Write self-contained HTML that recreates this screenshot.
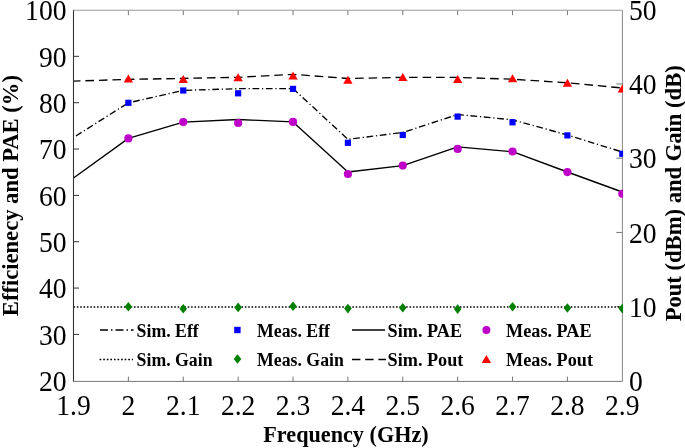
<!DOCTYPE html><html><head><meta charset="utf-8"><style>
html,body{margin:0;padding:0;background:#fff;}
body{width:685px;height:448px;overflow:hidden;position:relative;}
svg{position:absolute;left:0;top:0;display:block;filter:blur(0.3px);}
text{font-family:"Liberation Serif", serif;font-variant-ligatures:none;}
</style></head><body>
<svg width="685" height="448" viewBox="0 0 685 448">
<defs><clipPath id="c"><rect x="73.50" y="0" width="548.90" height="448"/></clipPath><clipPath id="m"><rect x="73.50" y="0" width="549.60" height="448"/></clipPath></defs>
<rect width="685" height="448" fill="#fff"/>
<path d="M128.38 381.40V376.60M128.38 10.25V15.15M183.26 381.40V376.60M183.26 10.25V15.15M238.14 381.40V376.60M238.14 10.25V15.15M293.02 381.40V376.60M293.02 10.25V15.15M347.90 381.40V376.60M347.90 10.25V15.15M402.78 381.40V376.60M402.78 10.25V15.15M457.66 381.40V376.60M457.66 10.25V15.15M512.54 381.40V376.60M512.54 10.25V15.15M567.42 381.40V376.60M567.42 10.25V15.15" stroke="#777" stroke-width="1" fill="none"/>
<path d="M73.50 334.42H79.00M73.50 288.07H79.00M73.50 241.72H79.00M73.50 195.38H79.00M73.50 149.03H79.00M73.50 102.69H79.00M73.50 56.34H79.00" stroke="#333" stroke-width="1" fill="none"/>
<path d="M622.40 306.70H616.40M622.40 232.45H616.40M622.40 158.20H616.40M622.40 83.95H616.40" stroke="#777" stroke-width="1" fill="none"/>
<g clip-path="url(#c)" fill="none" stroke="#000" stroke-width="1.35" stroke-linejoin="round">
<polyline points="73.50,81.10 128.38,79.40 183.26,78.40 238.14,77.30 293.02,74.30 347.90,78.50 402.78,77.40 457.66,77.40 512.54,79.20 567.42,82.80 622.30,88.00" stroke-dasharray="8.6 4.9" stroke-dashoffset="1.6"/>
<polyline points="73.50,137.50 128.38,102.80 183.26,90.40 238.14,88.70 293.02,88.60 347.90,139.30 402.78,132.50 457.66,114.50 512.54,119.80 567.42,135.00 622.30,152.00" stroke-dasharray="6.7 2.8 1.2 2.7" stroke-dashoffset="10.56"/>
<polyline points="73.50,178.00 128.38,138.40 183.26,122.20 238.14,119.50 293.02,121.90 347.90,172.00 402.78,165.60 457.66,146.80 512.54,151.70 567.42,172.00 622.30,192.00"/>
<line x1="73.50" y1="307.00" x2="622.40" y2="307.00" stroke-dasharray="1.55 1.81" stroke-width="1.6"/>
</g>
<path d="M73.50 10.25H622.40" stroke="#999" stroke-width="1" fill="none"/>
<path d="M622.40 10.25V381.40" stroke="#888" stroke-width="1" fill="none"/>
<path d="M73.50 381.40H622.40" stroke="#777" stroke-width="1" fill="none"/>
<path d="M73.50 10.25V381.40" stroke="#333" stroke-width="1.1" fill="none"/>
<g clip-path="url(#m)"><path d="M128.38 74.50L133.08 82.50L123.68 82.50Z" fill="#f00"/><path d="M183.26 75.10L187.96 83.10L178.56 83.10Z" fill="#f00"/><path d="M238.14 73.20L242.84 81.20L233.44 81.20Z" fill="#f00"/><path d="M293.02 71.50L297.72 79.50L288.32 79.50Z" fill="#f00"/><path d="M347.90 75.80L352.60 83.80L343.20 83.80Z" fill="#f00"/><path d="M402.78 73.00L407.48 81.00L398.08 81.00Z" fill="#f00"/><path d="M457.66 75.00L462.36 83.00L452.96 83.00Z" fill="#f00"/><path d="M512.54 74.30L517.24 82.30L507.84 82.30Z" fill="#f00"/><path d="M567.42 78.70L572.12 86.70L562.72 86.70Z" fill="#f00"/><path d="M622.30 84.40L627.00 92.40L617.60 92.40Z" fill="#f00"/><rect x="125.28" y="99.70" width="6.2" height="6.2" fill="#00f"/><rect x="180.16" y="87.40" width="6.2" height="6.2" fill="#00f"/><rect x="235.04" y="90.20" width="6.2" height="6.2" fill="#00f"/><rect x="289.92" y="85.80" width="6.2" height="6.2" fill="#00f"/><rect x="344.80" y="139.70" width="6.2" height="6.2" fill="#00f"/><rect x="399.68" y="131.90" width="6.2" height="6.2" fill="#00f"/><rect x="454.56" y="113.50" width="6.2" height="6.2" fill="#00f"/><rect x="509.44" y="119.20" width="6.2" height="6.2" fill="#00f"/><rect x="564.32" y="132.30" width="6.2" height="6.2" fill="#00f"/><rect x="619.20" y="150.70" width="6.2" height="6.2" fill="#00f"/><circle cx="128.38" cy="138.40" r="4.1" fill="#bf00c8"/><circle cx="183.26" cy="122.00" r="4.1" fill="#bf00c8"/><circle cx="238.14" cy="123.00" r="4.1" fill="#bf00c8"/><circle cx="293.02" cy="121.90" r="4.1" fill="#bf00c8"/><circle cx="347.90" cy="174.00" r="4.1" fill="#bf00c8"/><circle cx="402.78" cy="165.60" r="4.1" fill="#bf00c8"/><circle cx="457.66" cy="148.90" r="4.1" fill="#bf00c8"/><circle cx="512.54" cy="151.50" r="4.1" fill="#bf00c8"/><circle cx="567.42" cy="172.10" r="4.1" fill="#bf00c8"/><circle cx="622.30" cy="193.75" r="4.1" fill="#bf00c8"/><path d="M128.38 301.90L132.18 306.70L128.38 311.50L124.58 306.70Z" fill="#008000"/><path d="M183.26 304.00L187.06 308.80L183.26 313.60L179.46 308.80Z" fill="#008000"/><path d="M238.14 302.60L241.94 307.40L238.14 312.20L234.34 307.40Z" fill="#008000"/><path d="M293.02 301.40L296.82 306.20L293.02 311.00L289.22 306.20Z" fill="#008000"/><path d="M347.90 303.80L351.70 308.60L347.90 313.40L344.10 308.60Z" fill="#008000"/><path d="M402.78 302.90L406.58 307.70L402.78 312.50L398.98 307.70Z" fill="#008000"/><path d="M457.66 304.30L461.46 309.10L457.66 313.90L453.86 309.10Z" fill="#008000"/><path d="M512.54 301.90L516.34 306.70L512.54 311.50L508.74 306.70Z" fill="#008000"/><path d="M567.42 303.20L571.22 308.00L567.42 312.80L563.62 308.00Z" fill="#008000"/><path d="M622.30 303.80L626.10 308.60L622.30 313.40L618.50 308.60Z" fill="#008000"/></g>
<text transform="translate(66.50,381.06) scale(1,1.070)" x="0" y="9.33" text-anchor="end" font-size="27.60">20</text><text transform="translate(66.50,334.72) scale(1,1.070)" x="0" y="9.33" text-anchor="end" font-size="27.60">30</text><text transform="translate(66.50,288.37) scale(1,1.070)" x="0" y="9.33" text-anchor="end" font-size="27.60">40</text><text transform="translate(66.50,242.03) scale(1,1.070)" x="0" y="9.33" text-anchor="end" font-size="27.60">50</text><text transform="translate(66.50,195.68) scale(1,1.070)" x="0" y="9.33" text-anchor="end" font-size="27.60">60</text><text transform="translate(66.50,149.34) scale(1,1.070)" x="0" y="9.33" text-anchor="end" font-size="27.60">70</text><text transform="translate(66.50,102.99) scale(1,1.070)" x="0" y="9.33" text-anchor="end" font-size="27.60">80</text><text transform="translate(66.50,56.64) scale(1,1.070)" x="0" y="9.33" text-anchor="end" font-size="27.60">90</text><text transform="translate(66.50,10.30) scale(1,1.070)" x="0" y="9.33" text-anchor="end" font-size="27.60">100</text><text transform="translate(629.00,381.25) scale(1,1.070)" x="0" y="9.33" text-anchor="start" font-size="27.60">0</text><text transform="translate(629.00,307.00) scale(1,1.070)" x="0" y="9.33" text-anchor="start" font-size="27.60">10</text><text transform="translate(629.00,232.75) scale(1,1.070)" x="0" y="9.33" text-anchor="start" font-size="27.60">20</text><text transform="translate(629.00,158.50) scale(1,1.070)" x="0" y="9.33" text-anchor="start" font-size="27.60">30</text><text transform="translate(629.00,84.25) scale(1,1.070)" x="0" y="9.33" text-anchor="start" font-size="27.60">40</text><text transform="translate(629.00,10.00) scale(1,1.070)" x="0" y="9.33" text-anchor="start" font-size="27.60">50</text><text transform="translate(73.50,404.60) scale(1,1.070)" x="0" y="9.33" text-anchor="middle" font-size="27.60">1.9</text><text transform="translate(128.38,404.60) scale(1,1.070)" x="0" y="9.33" text-anchor="middle" font-size="27.60">2</text><text transform="translate(183.26,404.60) scale(1,1.070)" x="0" y="9.33" text-anchor="middle" font-size="27.60">2.1</text><text transform="translate(238.14,404.60) scale(1,1.070)" x="0" y="9.33" text-anchor="middle" font-size="27.60">2.2</text><text transform="translate(293.02,404.60) scale(1,1.070)" x="0" y="9.33" text-anchor="middle" font-size="27.60">2.3</text><text transform="translate(347.90,404.60) scale(1,1.070)" x="0" y="9.33" text-anchor="middle" font-size="27.60">2.4</text><text transform="translate(402.78,404.60) scale(1,1.070)" x="0" y="9.33" text-anchor="middle" font-size="27.60">2.5</text><text transform="translate(457.66,404.60) scale(1,1.070)" x="0" y="9.33" text-anchor="middle" font-size="27.60">2.6</text><text transform="translate(512.54,404.60) scale(1,1.070)" x="0" y="9.33" text-anchor="middle" font-size="27.60">2.7</text><text transform="translate(567.42,404.60) scale(1,1.070)" x="0" y="9.33" text-anchor="middle" font-size="27.60">2.8</text><text transform="translate(622.30,404.60) scale(1,1.070)" x="0" y="9.33" text-anchor="middle" font-size="27.60">2.9</text>
<text x="346" y="442" text-anchor="middle" font-size="22.2" font-weight="bold">Frequency (GHz)</text>
<text transform="translate(18.00,195.60) rotate(-90)" text-anchor="middle" font-size="22.60" font-weight="bold">Efficienecy and PAE (%)</text>
<text transform="translate(681.00,193.30) rotate(-90)" text-anchor="middle" font-size="22.60" font-weight="bold">Pout (dBm) and Gain (dB)</text>
<g fill="none" stroke="#000" stroke-width="1.35"><line x1="100" y1="330.0" x2="133.5" y2="330.0" stroke-dasharray="8 3 1.5 3"/><line x1="99.6" y1="359.50" x2="133" y2="359.50" stroke-dasharray="1.7 1.88"/><line x1="352" y1="330.0" x2="385" y2="330.0"/><line x1="352" y1="359.50" x2="386" y2="359.50" stroke-dasharray="8.4 4.8"/></g><rect x="234.20" y="326.80" width="6.4" height="6.4" fill="#00f"/><path d="M237.5 354.20L241.3 359.00L237.5 363.80L233.7 359.00Z" fill="#008000"/><circle cx="486.4" cy="330.00" r="4.0" fill="#bf00c8"/><path d="M486.4 355.00L491.1 363.00L481.7 363.00Z" fill="#f00"/><text transform="translate(136.60,330.70) scale(1,1.060)" x="0" y="6.00" text-anchor="start" font-size="17.75" font-weight="bold">Sim. Eff</text><text transform="translate(136.60,359.70) scale(1,1.060)" x="0" y="6.00" text-anchor="start" font-size="17.75" font-weight="bold">Sim. Gain</text><text transform="translate(257.10,330.70) scale(1,1.060)" x="0" y="6.00" text-anchor="start" font-size="17.75" font-weight="bold">Meas. Eff</text><text transform="translate(257.10,359.70) scale(1,1.060)" x="0" y="6.00" text-anchor="start" font-size="17.75" font-weight="bold">Meas. Gain</text><text transform="translate(387.60,330.70) scale(1.025,1.060)" x="0" y="6.00" text-anchor="start" font-size="17.75" font-weight="bold">Sim. PAE</text><text transform="translate(387.60,359.70) scale(1.025,1.060)" x="0" y="6.00" text-anchor="start" font-size="17.75" font-weight="bold">Sim. Pout</text><text transform="translate(506.10,330.70) scale(1.025,1.060)" x="0" y="6.00" text-anchor="start" font-size="17.75" font-weight="bold">Meas. PAE</text><text transform="translate(506.10,359.70) scale(1.025,1.060)" x="0" y="6.00" text-anchor="start" font-size="17.75" font-weight="bold">Meas. Pout</text>
</svg></body></html>
